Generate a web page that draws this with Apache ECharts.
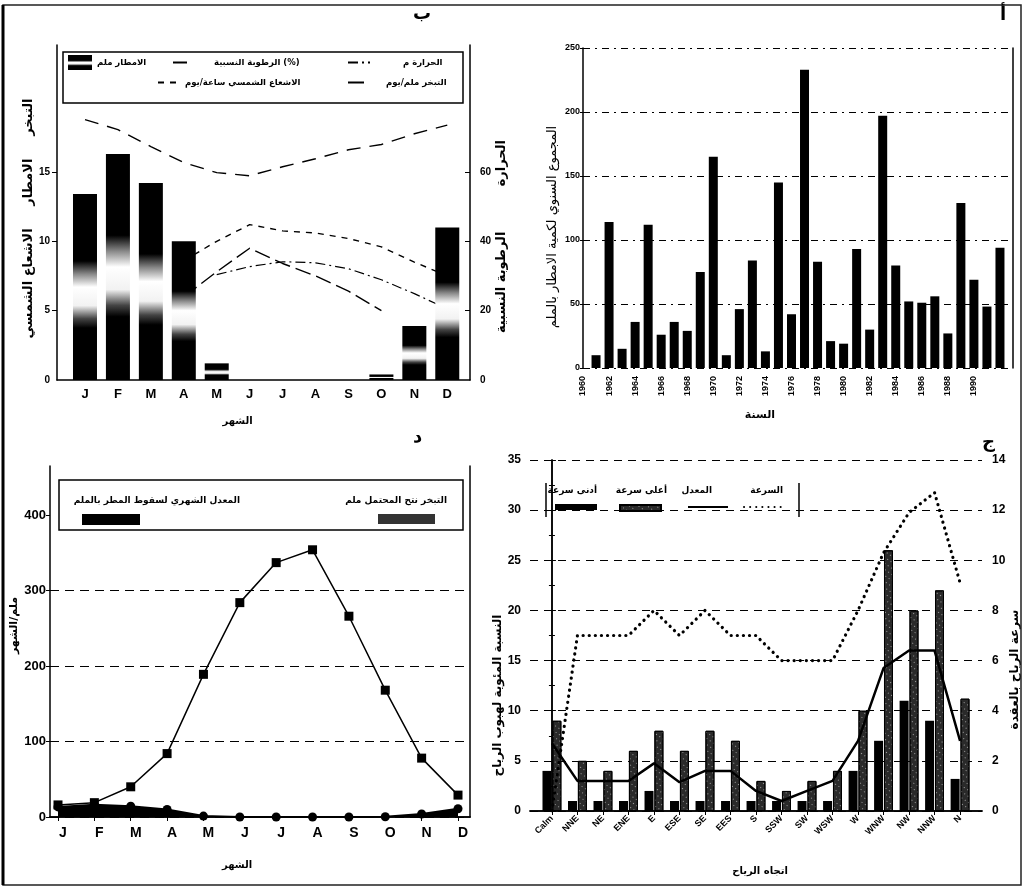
<!DOCTYPE html>
<html><head><meta charset="utf-8">
<script src="https://cdn.jsdelivr.net/npm/echarts@6/dist/echarts.min.js"></script>
<style>html,body{margin:0;padding:0;background:#fff}#c{width:1027px;height:891px}</style>
</head><body><div id="c"></div>
<script>
// ---------- Panel أ : annual rainfall totals ----------
const annualYears = [1961,1962,1963,1964,1965,1966,1967,1968,1969,1970,1971,1972,1973,1974,1975,1976,1977,1978,1979,1980,1981,1982,1983,1984,1985,1986,1987,1988,1989,1990,1991,1992];
const annualRainMm = [10,114,15,36,112,26,36,29,75,165,10,46,84,13,145,42,233,83,21,19,93,30,197,80,52,51,56,27,129,69,48,94];
const annualYearTicks = [1960,1962,1964,1966,1968,1970,1972,1974,1976,1978,1980,1982,1984,1986,1988,1990];

// ---------- Panel ب : monthly climate ----------
const monthLetters = ['J','F','M','A','M','J','J','A','S','O','N','D'];
const monthIndex = [1,2,3,4,5,6,7,8,9,10,11,12];
const monthlyRainMm = [13.4,16.3,14.2,10.0,1.2,0,0,0,0,0.4,3.9,11.0];
const humidityPct = [75.1,72.2,67.3,62.7,59.8,58.9,61.5,63.8,66.4,67.9,71.0,73.5];
const temperatureC = [null,null,null,null,30.4,32.7,34.1,33.8,32.1,28.9,24.9,20.5];
const sunshineHrs = [null,null,null,8.6,10.0,11.2,10.75,10.6,10.2,9.6,8.5,7.5];
const evaporationMm = [null,null,null,6.0,7.8,9.5,8.4,7.5,6.4,5.0,null,null];
const leftTicksB = [0,5,10,15];
const rightTicksB = [0,20,40,60];

// ---------- Panel ج : wind ----------
const windDirections = ['Calm','NNE','NE','ENE','E','ESE','SE','EES','S','SSW','SW','WSW','W','WNW','NW','NNW','N'];
const windIndex = [0,1,2,3,4,5,6,7,8,9,10,11,12,13,14,15,16];
const lowSpeedPct = [4,1,1,1,2,1,1,1,1,1,1,1,4,7,11,9,3.2];
const highSpeedPct = [9,5,4,6,8,6,8,7,3,2,3,4,10,26,20,22,11.2];
const meanSpeedKn = [2.7,1.2,1.2,1.2,1.9,1.15,1.6,1.6,0.8,0.4,0.8,1.2,2.8,5.7,6.4,6.4,2.8];
const speedKn = [0,7,7,7,8,7,8,7,7,6,6,6,8,10.3,11.9,12.7,9.1];

// ---------- Panel د : rain vs potential evapotranspiration ----------
const petMm = [16,19,40,84,189,284,337,354,266,168,78,29];
const rainMonthlyMm = [13.4,16.3,14.2,10.0,1.2,0,0,0,0,0.4,3.9,11.0];
const leftTicksD = [0,100,200,300,400];

const AR = "'DejaVu Sans', sans-serif";
const LAT = "'Liberation Sans', Arial, sans-serif";
const pair = (xs, ys) => xs.map((x, i) => [x, ys[i]]);
const axLine = {show:true, lineStyle:{color:'#000', width:1.5}};
const noAx = {axisLine:{show:false}, axisTick:{show:false}, axisLabel:{show:false}, splitLine:{show:false}};

const N = {
  rainB:'الامطار ملم', hum:'الرطوبة النسبية (%)', temp:'الحرارة م',
  sun:'الاشعاع الشمسي ساعة/يوم', evap:'التبخر ملم/يوم',
  low:'أدنى سرعة', high:'أعلى سرعة', mean:'المعدل', speed:'السرعة',
  rainD:'المعدل الشهري لسقوط المطر بالملم', pet:'التبخر نتح المحتمل ملم'
};

const legTxt = {fontFamily:AR, fontWeight:'bold', fontSize:8.5, color:'#000'};
const hideSym = {color:'rgba(0,0,0,0)', borderWidth:0, borderColor:'rgba(0,0,0,0)'};
function leg(name, left, top, w, h, extra) {
  return Object.assign({data:[name], left:left, top:top, itemWidth:w, itemHeight:h, padding:0, z:20,
    selectedMode:false, textStyle:Object.assign({}, legTxt)}, extra || {});
}
function ttl(text, pos, size) {
  return Object.assign({text:text, padding:0, z:20,
    textStyle:{fontFamily:AR, fontWeight:'bold', fontSize:size || 9, color:'#000'}}, pos);
}

const barGradient = {type:'linear', x:0, y:0, x2:0, y2:1, colorStops:[
  {offset:0, color:'#000'}, {offset:0.36, color:'#000'}, {offset:0.43, color:'#888'},
  {offset:0.5, color:'#fff'}, {offset:0.6, color:'#f2f2f2'}, {offset:0.67, color:'#444'},
  {offset:0.72, color:'#000'}, {offset:1, color:'#000'}]};

const option = {
  animation:false,
  backgroundColor:'#fff',
  grid:[
    {left:583, top:48, width:430, height:320},
    {left:57, top:45, width:413, height:335},
    {left:530, top:460, width:452, height:351},
    {left:50, top:466, width:420, height:351}
  ],
  xAxis:[
    // 0 أ
    {gridIndex:0, type:'value', min:1960, max:1993, axisLine:{show:false}, axisTick:{show:false}, splitLine:{show:false},
     axisLabel:{customValues:annualYearTicks, rotate:90, fontSize:9, fontWeight:'bold', fontFamily:LAT, color:'#000', margin:8, formatter:v=>String(v)},
     name:'السنة', nameLocation:'middle', nameGap:42, nameTextStyle:{fontFamily:AR, fontWeight:'bold', fontSize:11, color:'#000', padding:[0,76,0,0]}},
    // 1 ب bottom
    {gridIndex:1, type:'value', min:0.15, max:12.69, axisLine:{show:false}, axisTick:{show:false}, splitLine:{show:false},
     axisLabel:{customValues:monthIndex, formatter:v=>monthLetters[Math.round(v)-1], fontSize:13, fontWeight:'bold', fontFamily:LAT, color:'#000', margin:8},
     name:'الشهر', nameLocation:'middle', nameGap:36, nameTextStyle:{fontFamily:AR, fontWeight:'bold', fontSize:10, color:'#000', padding:[0,52,0,0]}},
    // 2 ب top frame
    Object.assign({gridIndex:1, type:'value', position:'top', min:0.15, max:12.69}, noAx, {axisLine:axLine}),
    // 3 ج bottom
    {gridIndex:2, type:'value', min:-0.86, max:16.86, axisLine:axLine, splitLine:{show:false},
     axisTick:{customValues:windIndex, length:4, lineStyle:{color:'#000'}},
     axisLabel:{customValues:windIndex, formatter:v=>windDirections[Math.round(v)], rotate:45, fontSize:9, fontWeight:'bold', fontFamily:LAT, color:'#000', margin:6},
     name:'اتجاه الرياح', nameLocation:'middle', nameGap:55, nameTextStyle:{fontFamily:AR, fontWeight:'bold', fontSize:10, color:'#000', padding:[0,0,0,8]}},
    // 4 ج top frame
    Object.assign({gridIndex:2, type:'value', position:'top', min:-0.86, max:16.86}, noAx, {axisLine:axLine}),
    // 5 د bottom
    {gridIndex:3, type:'value', min:0.78, max:12.33, axisLine:axLine, splitLine:{show:false},
     axisTick:{customValues:monthIndex, length:4, lineStyle:{color:'#000'}},
     axisLabel:{customValues:monthIndex, formatter:v=>monthLetters[Math.round(v)-1], fontSize:14, fontWeight:'bold', fontFamily:LAT, color:'#000', margin:9, padding:[0,0,0,10]},
     name:'الشهر', nameLocation:'middle', nameGap:43, nameTextStyle:{fontFamily:AR, fontWeight:'bold', fontSize:10, color:'#000', padding:[0,46,0,0]}},
    // 6 د top frame
    Object.assign({gridIndex:3, type:'value', position:'top', min:0.78, max:12.33}, noAx, {axisLine:axLine})
  ],
  yAxis:[
    // 0 أ left
    {gridIndex:0, type:'value', min:0, max:250, interval:50, axisLine:axLine,
     axisTick:{show:true, length:3, lineStyle:{color:'#000'}},
     axisLabel:{fontSize:9, fontWeight:'bold', fontFamily:LAT, color:'#000', margin:3},
     splitLine:{show:true, lineStyle:{color:'#000', width:1, type:[7,5,2,5]}},
     name:'المجموع السنوي لكمية الامطار بالملم', nameLocation:'middle', nameRotate:90, nameGap:24,
     nameTextStyle:{fontFamily:AR, fontSize:13, color:'#000', padding:[0,38,0,0]}},
    // 1 أ right border
    Object.assign({gridIndex:0, type:'value', position:'right', min:0, max:250}, noAx, {axisLine:axLine}),
    // 2 ب left
    {gridIndex:1, type:'value', min:0, max:24.15, interval:5, axisLine:axLine, splitLine:{show:false},
     axisTick:{customValues:[5,10,15], length:5, lineStyle:{color:'#000'}},
     axisLabel:{customValues:leftTicksB, fontSize:10, fontWeight:'bold', fontFamily:LAT, color:'#000', margin:7},
     name:'التبخر     الامطار     الاشعاع الشمسي', nameLocation:'middle', nameRotate:90, nameGap:17,
     nameTextStyle:{fontFamily:AR, fontSize:13, fontWeight:'bold', color:'#000', padding:[0,12,0,0]}},
    // 3 ب right
    {gridIndex:1, type:'value', position:'right', min:0, max:96.6, interval:20, axisLine:axLine, splitLine:{show:false},
     axisTick:{customValues:[20,40,60], length:5, inside:true, lineStyle:{color:'#000'}},
     axisLabel:{customValues:rightTicksB, fontSize:10, fontWeight:'bold', fontFamily:LAT, color:'#000', margin:10},
     name:'الحرارة          الرطوبة النسبية', nameLocation:'middle', nameRotate:90, nameGap:20,
     nameTextStyle:{fontFamily:AR, fontSize:13, fontWeight:'bold', color:'#000', padding:[0,48,0,0]}},
    // 4 ج left
    {gridIndex:2, type:'value', min:0, max:35, interval:5, axisLine:axLine,
     axisTick:{length:4, lineStyle:{color:'#000'}}, minorTick:{show:true, splitNumber:2, length:3, lineStyle:{color:'#000'}},
     axisLabel:{fontSize:12, fontWeight:'bold', fontFamily:LAT, color:'#000', margin:9},
     splitLine:{show:true, lineStyle:{color:'#000', width:1, type:[8,6]}},
     name:'النسبة المئوية لهبوب الرياح', nameLocation:'middle', nameRotate:90, nameGap:25,
     nameTextStyle:{fontFamily:AR, fontSize:12, fontWeight:'bold', color:'#000', padding:[0,120,0,0]}},
    // 5 ج right
    {gridIndex:2, type:'value', position:'right', min:0, max:14, interval:2, axisLine:axLine, splitLine:{show:false},
     axisTick:{length:4, lineStyle:{color:'#000'}}, minorTick:{show:true, splitNumber:2, length:3, lineStyle:{color:'#000'}},
     axisLabel:{fontSize:12, fontWeight:'bold', fontFamily:LAT, color:'#000', margin:10},
     name:'سرعة الرياح بالعقدة', nameLocation:'middle', nameRotate:90, nameGap:25,
     nameTextStyle:{fontFamily:AR, fontSize:12, fontWeight:'bold', color:'#000', padding:[0,68,0,0]}},
    // 6 د left
    {gridIndex:3, type:'value', min:0, max:465, interval:100, axisLine:axLine,
     axisTick:{customValues:leftTicksD, length:4, lineStyle:{color:'#000'}},
     axisLabel:{customValues:leftTicksD, fontSize:13, fontWeight:'bold', fontFamily:LAT, color:'#000', margin:4},
     splitLine:{show:true, showMaxLine:false, lineStyle:{color:'#000', width:1, type:[9,6]}},
     name:'ملم/الشهر', nameLocation:'middle', nameRotate:90, nameGap:30,
     nameTextStyle:{fontFamily:AR, fontSize:11, fontWeight:'bold', color:'#000', padding:[0,0,0,32]}},
    // 7 د right border
    Object.assign({gridIndex:3, type:'value', position:'right', min:0, max:465}, noAx, {axisLine:axLine})
  ],
  legend:[
    leg(N.rainB, 68, 55, 24, 15, {icon:'rect'}),
    leg(N.hum, 172, 58, 22, 10, {itemStyle:hideSym, textStyle:Object.assign({}, legTxt, {padding:[0,0,0,14]})}),
    leg(N.temp, 347, 58, 22, 10, {itemStyle:hideSym, textStyle:Object.assign({}, legTxt, {padding:[0,0,0,28]})}),
    leg(N.sun, 157, 78, 22, 10, {itemStyle:hideSym}),
    leg(N.evap, 347, 78, 18, 10, {itemStyle:hideSym, textStyle:Object.assign({}, legTxt, {padding:[0,0,0,15]})}),
    leg(N.low, 555, 504, 42, 6, {icon:'rect', formatter:()=>''}),
    leg(N.high, 619, 504, 41, 6, {icon:'rect', formatter:()=>''}),
    leg(N.mean, 687, 503, 40, 8, {itemStyle:hideSym, formatter:()=>''}),
    leg(N.speed, 743, 503, 37, 8, {itemStyle:hideSym, formatter:()=>''}),
    leg(N.rainD, 82, 514, 58, 11, {icon:'rect', formatter:()=>''}),
    leg(N.pet, 378, 514, 57, 10, {icon:'rect', formatter:()=>'', itemStyle:{color:'#333'}})
  ],
  title:[
    ttl('ب', {left:413, top:5}, 18),
    ttl('أ', {left:1000, top:6}, 18),
    ttl('د', {left:413, top:428}, 18),
    ttl('ج', {left:982, top:433}, 18),
    ttl(N.low, {right:430, top:486}),
    ttl(N.high, {right:360, top:486}),
    ttl(N.mean, {right:315, top:486}),
    ttl(N.speed, {right:244, top:486}),
    ttl(N.rainD, {right:787, top:496}),
    ttl(N.pet, {right:580, top:496})
  ],
  graphic:[
    {type:'rect', shape:{x:3, y:5, width:1018, height:880}, style:{fill:null, stroke:'#222', lineWidth:1.5}, z:1, silent:true},
    {type:'line', shape:{x1:3, y1:5, x2:3, y2:885}, style:{stroke:'#000', lineWidth:3}, z:1, silent:true},
    {type:'rect', shape:{x:63, y:52, width:400, height:51}, style:{fill:'#fff', stroke:'#000', lineWidth:1.5}, z:10, silent:true},
    {type:'rect', shape:{x:59, y:480, width:404, height:50}, style:{fill:'#fff', stroke:'#000', lineWidth:1.5}, z:10, silent:true},
    {type:'line', shape:{x1:546, y1:483, x2:546, y2:517}, style:{stroke:'#000', lineWidth:1.5}, z:10, silent:true},
    {type:'line', shape:{x1:799, y1:483, x2:799, y2:517}, style:{stroke:'#000', lineWidth:1.5}, z:10, silent:true}
  ],
  series:[
    // أ
    {name:'annual', type:'bar', xAxisIndex:0, yAxisIndex:0, data:pair(annualYears, annualRainMm), barWidth:9,
     itemStyle:{color:'#000'}},
    // ب
    {name:N.rainB, type:'bar', xAxisIndex:1, yAxisIndex:2, data:pair(monthIndex, monthlyRainMm), barWidth:24, z:3,
     itemStyle:{color:barGradient, borderWidth:0}},
    {name:N.hum, type:'line', xAxisIndex:1, yAxisIndex:3, data:pair(monthIndex, humidityPct), symbol:'none', z:2,
     lineStyle:{color:'#000', width:1.4, type:[14,9]}, itemStyle:{color:'#000'}},
    {name:N.temp, type:'line', xAxisIndex:1, yAxisIndex:3, data:pair(monthIndex, temperatureC), symbol:'none', z:2,
     lineStyle:{color:'#000', width:1.2, type:[10,4,2,4]}, itemStyle:{color:'#000'}},
    {name:N.sun, type:'line', xAxisIndex:1, yAxisIndex:2, data:pair(monthIndex, sunshineHrs), symbol:'none', z:2,
     lineStyle:{color:'#000', width:1.4, type:[6,6]}, itemStyle:{color:'#000'}},
    {name:N.evap, type:'line', xAxisIndex:1, yAxisIndex:2, data:pair(monthIndex, evaporationMm), symbol:'none', z:2,
     lineStyle:{color:'#000', width:1.4, type:[16,6]}, itemStyle:{color:'#000'}},
    // ج
    {name:N.low, type:'bar', xAxisIndex:3, yAxisIndex:4, data:pair(windIndex, lowSpeedPct), barWidth:9, barGap:'10%',
     itemStyle:{color:'#000'}},
    {name:N.high, type:'bar', xAxisIndex:3, yAxisIndex:4, data:pair(windIndex, highSpeedPct), barWidth:9,
     itemStyle:{color:'#2a2a2a', borderColor:'#000', borderWidth:1,
       decal:{symbol:'rect', symbolSize:1, color:'rgba(255,255,255,0.55)', dashArrayX:[1,3], dashArrayY:[1,4], rotation:0.6}}},
    {name:N.mean, type:'line', xAxisIndex:3, yAxisIndex:5, data:pair(windIndex, meanSpeedKn), symbol:'none', z:4,
     lineStyle:{color:'#000', width:2.5}, itemStyle:{color:'#000'}},
    {name:N.speed, type:'line', xAxisIndex:3, yAxisIndex:5, data:pair(windIndex, speedKn), symbol:'none', z:4,
     lineStyle:{color:'#000', width:3.2, type:[0.1,6], cap:'round'}, itemStyle:{color:'#000'}},
    // د
    {name:N.pet, type:'line', xAxisIndex:5, yAxisIndex:6, data:pair(monthIndex, petMm), symbol:'rect', symbolSize:9,
     lineStyle:{color:'#000', width:1.5}, itemStyle:{color:'#000'}},
    {name:N.rainD, type:'line', xAxisIndex:5, yAxisIndex:6, data:pair(monthIndex, rainMonthlyMm), symbol:'circle', symbolSize:9,
     lineStyle:{color:'#000', width:2}, itemStyle:{color:'#000'}, areaStyle:{color:'#000', opacity:1}}
  ]
};
const chart = echarts.init(document.getElementById('c'), null, {renderer:'canvas', width:1027, height:891});
chart.setOption(option);
</script></body></html>
